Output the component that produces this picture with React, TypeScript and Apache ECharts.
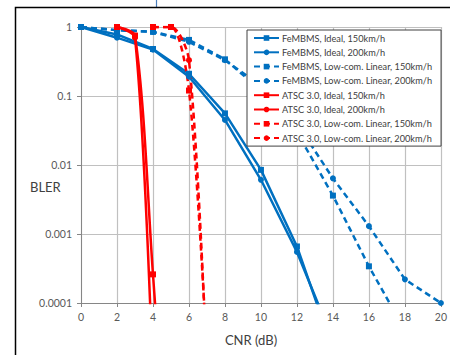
import React, { useEffect, useRef } from "react";
import * as echarts from "echarts";

// CNR (dB) x values and BLER values per series
const femIdeal150X = [0, 2, 4, 6, 8, 10, 12, 14];
const femIdeal150Y = [1, 0.78, 0.48, 0.21, 0.056, 0.0085, 0.00066, 0.000021];
const femIdeal200X = [0, 2, 4, 6, 8, 10, 12, 14];
const femIdeal200Y = [1, 0.7, 0.47, 0.19, 0.045, 0.0061, 0.00055, 0.000029];
const femLow150X = [0, 2, 4, 6, 8, 10, 12, 14, 16, 18];
const femLow150Y = [1, 0.9, 0.85, 0.65, 0.34, 0.12, 0.03, 0.0036, 0.00034, 0.00004];
const femLow200X = [0, 2, 4, 6, 8, 10, 12, 14, 16, 18, 20];
const femLow200Y = [1, 0.9, 0.85, 0.61, 0.33, 0.14, 0.04, 0.0064, 0.0013, 0.00022, 0.0001];
const atscIdeal150X = [2, 3, 4, 5];
const atscIdeal150Y = [1, 0.75, 0.00026, 0.00000005];
const atscIdeal200X = [2, 3, 4];
const atscIdeal200Y = [1, 0.7, 0.000007];
const atscLow150X = [4, 5, 6, 7];
const atscLow150Y = [1, 1, 0.12, 0.000017];
const atscLow200X = [4, 5, 6, 7];
const atscLow200Y = [1, 1, 0.33, 0.00001];

const seriesNames = [
  "FeMBMS, Ideal, 150km/h",
  "FeMBMS, Ideal, 200km/h",
  "FeMBMS, Low-com. Linear, 150km/h",
  "FeMBMS, Low-com. Linear, 200km/h",
  "ATSC 3.0, Ideal, 150km/h",
  "ATSC 3.0, Ideal, 200km/h",
  "ATSC 3.0, Low-com. Linear, 150km/h",
  "ATSC 3.0, Low-com. Linear, 200km/h",
];

const yTickLabels = ["0.0001", "0.001", "0.01", "0.1", "1"];
const xAxisTitle = "CNR (dB)";
const yAxisTitle = "BLER";

const BLUE = "#0070C0";
const RED = "#FF0000";

function pairs(xs: number[], ys: number[]) {
  return xs.map((x, i) => [x, ys[i]]);
}

export default function App() {
  const ref = useRef<HTMLDivElement>(null);
  useEffect(() => {
    if (!ref.current) return;
    const chart = echarts.init(ref.current, null, { renderer: "svg" });
    const mk = (
      name: string,
      xs: number[],
      ys: number[],
      color: string,
      dashed: boolean,
      symbol: string,
      smooth: number | boolean
    ) => ({
      name,
      type: "line",
      data: pairs(xs, ys),
      symbol,
      symbolSize: 6,
      showSymbol: true,
      smooth,
      clip: true,
      lineStyle: { color, width: 2.5, type: dashed ? [6, 4] : "solid" },
      itemStyle: { color, borderWidth: 0 },
    });
    chart.setOption({
      animation: false,
      backgroundColor: "#ffffff",
      textStyle: { fontFamily: "Lato" },
      grid: { left: 81, right: 8, top: 27, bottom: 52, containLabel: false },
      xAxis: {
        type: "value",
        min: 0,
        max: 20,
        interval: 2,
        axisLine: { show: true, onZero: false, lineStyle: { color: "#868686", width: 1 } },
        axisTick: { show: true, length: 4, lineStyle: { color: "#868686" } },
        axisLabel: { color: "#595959", fontSize: 10.5, fontFamily: "Lato", margin: 8 },
        splitLine: { show: true, lineStyle: { color: "#c0c0c0", width: 1.2 } },
      },
      yAxis: {
        type: "log",
        logBase: 10,
        min: 0.0001,
        max: 1,
        axisLine: { show: true, lineStyle: { color: "#868686", width: 1 } },
        axisTick: { show: true, length: 4, lineStyle: { color: "#868686" } },
        axisLabel: {
          color: "#595959",
          fontSize: 10.5,
          fontFamily: "Lato",
          margin: 9,
          formatter: (v: number) => {
            const e = Math.round(Math.log10(v));
            return yTickLabels[e + 4] ?? "";
          },
        },
        splitLine: { show: true, lineStyle: { color: "#c0c0c0", width: 1.2 } },
        minorTick: { show: false },
      },
      legend: {
        orient: "vertical",
        left: 247,
        top: 30,
        padding: [2, 9, 2, 6],
        itemWidth: 25,
        itemHeight: 7,
        itemGap: 2.3,
        backgroundColor: "#ffffff",
        borderColor: "#404040",
        borderWidth: 1,
        borderRadius: 0,
        textStyle: { color: "#404040", fontSize: 9.2, fontFamily: "Lato", lineHeight: 12, padding: [0, 0, 0, -2] },
        data: seriesNames,
      },
      series: [
        mk(seriesNames[0], femIdeal150X, femIdeal150Y, BLUE, false, "rect", false),
        mk(seriesNames[1], femIdeal200X, femIdeal200Y, BLUE, false, "circle", false),
        mk(seriesNames[2], femLow150X, femLow150Y, BLUE, true, "rect", false),
        mk(seriesNames[3], femLow200X, femLow200Y, BLUE, true, "circle", false),
        mk(seriesNames[4], atscIdeal150X, atscIdeal150Y, RED, false, "rect", 0.3),
        mk(seriesNames[5], atscIdeal200X, atscIdeal200Y, RED, false, "circle", 0.3),
        mk(seriesNames[6], atscLow150X, atscLow150Y, RED, true, "rect", 0.3),
        mk(seriesNames[7], atscLow200X, atscLow200Y, RED, true, "circle", 0.3),
      ],
      graphic: [
        {
          type: "rect",
          shape: { x: 15.5, y: 7.5, width: 460, height: 370 },
          style: { fill: "none", stroke: "#000000", lineWidth: 1.5 },
          silent: true,
          z: 100,
        },
        {
          type: "line",
          shape: { x1: 156.5, y1: 0, x2: 156.5, y2: 7 },
          style: { stroke: "#4a7ebb", lineWidth: 1.2 },
          silent: true,
        },
        {
          type: "text",
          x: 30,
          y: 180,
          style: { text: yAxisTitle, fill: "#404040", fontSize: 13, fontFamily: "Lato" },
          silent: true,
        },
        {
          type: "text",
          x: 251,
          y: 333,
          style: { text: xAxisTitle, fill: "#404040", fontSize: 13, fontFamily: "Lato", textAlign: "center" },
          silent: true,
        },
      ],
    });
    return () => chart.dispose();
  }, []);
  return (
    <div
      ref={ref}
      style={{ position: "fixed", left: 0, top: 0, width: 450, height: 355, background: "#fff" }}
    />
  );
}
